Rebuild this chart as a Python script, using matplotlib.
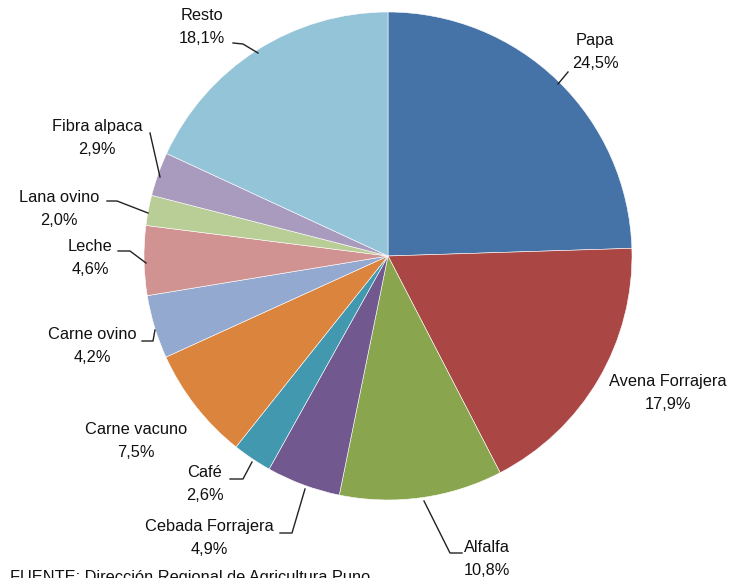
import matplotlib
matplotlib.use("Agg")
import matplotlib.pyplot as plt

categories = ["Papa", "Avena Forrajera", "Alfalfa", "Cebada Forrajera", "Café",
              "Carne vacuno", "Carne ovino", "Leche", "Lana ovino", "Fibra alpaca", "Resto"]
values = [24.5, 17.9, 10.8, 4.9, 2.6, 7.5, 4.2, 4.6, 2.0, 2.9, 18.1]
colors = ["#4572A7", "#AA4643", "#89A54E", "#71588F", "#4198AF", "#DB843D",
          "#93A9CF", "#D19392", "#B9CD96", "#A99BBD", "#93C4D8"]
source = "FUENTE: Dirección Regional de Agricultura Puno"

W, H = 730, 578
fig = plt.figure(figsize=(W / 100, H / 100), dpi=100)
ax = fig.add_axes([0, 0, 1, 1])

def Y(y):
    return H - y

cx, cy, r = 388, 256, 244
ax.pie(values, colors=colors, startangle=90, counterclock=False,
       center=(cx, Y(cy)), radius=r,
       wedgeprops=dict(edgecolor="white", linewidth=0.4))
ax.set_xlim(0, W)
ax.set_ylim(0, H)
ax.set_aspect("equal")
ax.axis("off")

font = dict(family=["Liberation Sans", "DejaVu Sans"], fontsize=11.8, color="#111111")

# label text positions (pixel) and leader lines
label_pos = {
    "Papa": (595, 52),
    "Avena Forrajera": (668, 393),
    "Alfalfa": (487, 559),
    "Cebada Forrajera": (209, 538),
    "Café": (205, 484),
    "Carne vacuno": (136, 441),
    "Carne ovino": (92, 346),
    "Leche": (90, 258),
    "Lana ovino": (59, 209),
    "Fibra alpaca": (97, 138),
    "Resto": (202, 27),
}
leaders = {
    "Papa": [(568, 72), (558, 84)],
    "Alfalfa": [(424, 501), (450, 553), (462, 553)],
    "Cebada Forrajera": [(280, 533), (292, 533), (305, 489)],
    "Café": [(230, 479), (243, 479), (252, 462)],
    "Carne ovino": [(142, 341), (153, 341), (155, 330)],
    "Leche": [(118, 251), (130, 251), (146, 263)],
    "Lana ovino": [(107, 201), (117, 201), (148, 213)],
    "Fibra alpaca": [(150, 133), (160, 177)],
    "Resto": [(233, 43), (243, 44), (258, 53)],
}

for cat, val in zip(categories, values):
    x, y = label_pos[cat]
    txt = f"{cat}\n{val:.1f}%".replace(".", ",")
    ax.text(x, Y(y), txt, ha="center", va="center", linespacing=1.72, **font)
    if cat in leaders:
        pts = leaders[cat]
        ax.plot([p[0] for p in pts], [Y(p[1]) for p in pts], color="#222222", lw=1.0)

ax.text(10, Y(582), source, ha="left", va="baseline", **font)

fig.savefig("out.png", dpi=100)
